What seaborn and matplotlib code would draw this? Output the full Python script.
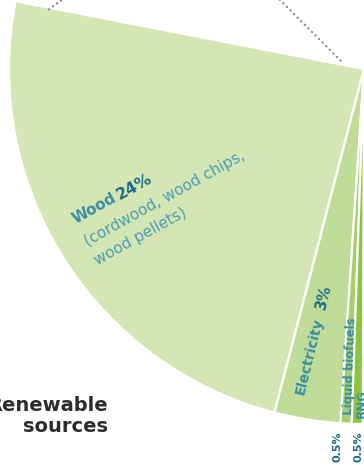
import matplotlib
matplotlib.use("Agg")
import matplotlib.pyplot as plt
import seaborn as sns

# Renewable-sources breakdown (percent of total energy use)
categories = ["Wood", "Electricity", "Liquid biofuels", "RNG"]
shares = [24, 3, 0.5, 0.5]
wood_detail = ["(cordwood, wood chips,", "wood pellets)"]
group_title = "Renewable\nsources"

colors = ["#d3e6b4", "#bfdc98", "#a6cf6c", "#8cc441"]
teal = "#3a8ea6"
teal_dark = "#1c6b86"
teal_light = "#4f9db2"

sns.set_theme(style="white")
plt.rcParams["font.family"] = ["DejaVu Sans"]

W, H = 364, 465
fig = plt.figure(figsize=(W / 100, H / 100), dpi=100)
ax = fig.add_axes([0, 0, 1, 1])


def px(x, y):
    """Pixel position (origin top-left) to data coordinates."""
    return x, H - y


center = px(364, 69)
ax.pie([s / 100 for s in shares], colors=colors, startangle=169,
       counterclock=True, radius=355, center=center, normalize=False,
       wedgeprops=dict(edgecolor="white", linewidth=1.6))

ax.set_xlim(0, W)
ax.set_ylim(0, H)
ax.set_aspect("equal")
ax.axis("off")

# connector lines toward the parent chart
ax.plot(*zip(px(48, 10), px(66, -3)), color="#6f87a2", lw=1.3,
        ls=(0, (1.2, 1.6)), solid_capstyle="round")
ax.plot(*zip(px(277, -3), px(343, 63)), color="#6f87a2", lw=1.3,
        ls=(0, (1.2, 1.6)), solid_capstyle="round")

# Wood label
rot_w = 29
ax.text(*px(76, 224), categories[0], rotation=rot_w, rotation_mode="anchor",
        ha="left", va="baseline", fontsize=11, fontweight="bold", color=teal)
ax.text(*px(120, 200), f"{shares[0]:g}%", rotation=rot_w, rotation_mode="anchor",
        ha="left", va="baseline", fontsize=11.5, fontweight="heavy", color=teal_dark)
ax.text(*px(88, 246), wood_detail[0], rotation=rot_w, rotation_mode="anchor",
        ha="left", va="baseline", fontsize=11, color=teal_light)
ax.text(*px(98, 265), wood_detail[1], rotation=rot_w, rotation_mode="anchor",
        ha="left", va="baseline", fontsize=11, color=teal_light)

# Electricity label
rot_e = 76
ax.text(*px(319, 318), categories[1], rotation=rot_e, rotation_mode="anchor",
        ha="right", va="center", fontsize=10, fontweight="semibold", color=teal)
ax.text(*px(321, 310), f"{shares[1]:g}%", rotation=rot_e, rotation_mode="anchor",
        ha="left", va="center", fontsize=10.5, fontweight="heavy", color=teal_dark)

# thin slices
ax.text(*px(350, 366), categories[2], rotation=88, rotation_mode="anchor",
        ha="center", va="center", fontsize=8.5, fontweight="semibold", color=teal)
ax.text(*px(361, 418), categories[3], rotation=88, rotation_mode="anchor",
        ha="left", va="center", fontsize=8.5, fontweight="semibold", color=teal)
for x, s in zip([337.5, 359], shares[2:]):
    ax.text(*px(x, 447), f"{s:g}%", rotation=90, rotation_mode="anchor",
            ha="center", va="center", fontsize=8, fontweight="bold", color=teal_dark)

# group title
ax.text(*px(108, 416), group_title, ha="right", va="center", ma="right",
        fontsize=14, fontweight="bold", color="#2c2c2c", linespacing=1.15)

fig.savefig("out.png", dpi=100)
